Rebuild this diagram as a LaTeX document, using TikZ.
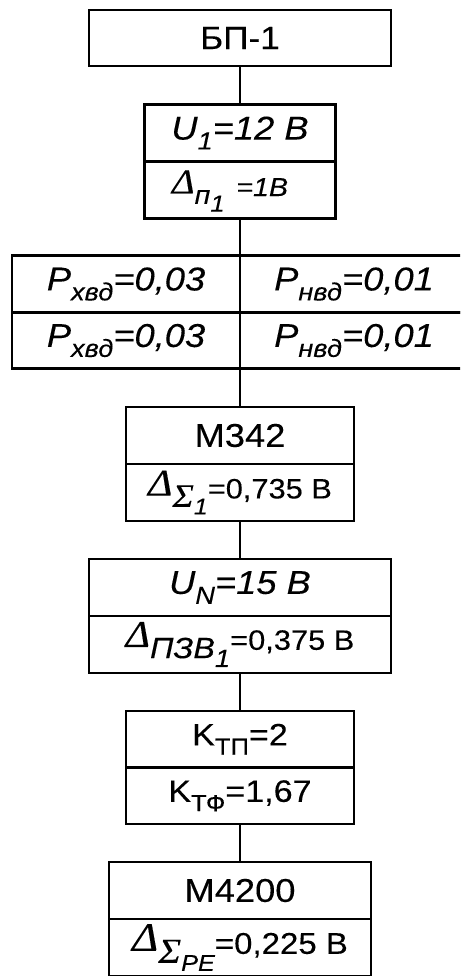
\documentclass[tikz,border=0pt]{standalone}
\usepackage{fontspec}
\setmainfont[FakeStretch=1.1,FakeBold=0.2]{Liberation Sans}
\newfontfamily\grk[FakeStretch=1.1,FakeBold=0.2]{Liberation Serif}
\newcommand\lo[2][0.75]{\raisebox{-0.3em}{\scalebox{#1}{#2}}}
\newcommand\dl{\raisebox{0.1em}{\scalebox{1.35}{\grk\itshape Δ}}}
\newcommand\sg{\scalebox{1.3}{\grk\itshape Σ}}

\begin{document}
\begin{tikzpicture}[x=1pt,y=-1pt,
  cell/.style={draw,line width=2.8pt,inner sep=0pt,outer sep=0pt,minimum height=57pt},
  pcell/.style={cell,minimum width=228pt,minimum height=56.5pt,font=\fontsize{33}{38}\selectfont\itshape},
  link/.style={line width=2.8pt}]

\path[use as bounding box,clip] (0,0) rectangle (460,976);

\node[cell,minimum width=302pt,minimum height=56pt,font=\fontsize{32}{36}\selectfont] (bp) at (240,38) {БП-1};

\node[cell,minimum width=191pt,font=\fontsize{33}{38}\selectfont\itshape] (u1) at (240,133) {U\lo{1}=12 В};
\node[cell,minimum width=191pt] (dp) at (240,190) {};
\node[font=\fontsize{26}{30}\selectfont\itshape] (dpt) at (230,191) {\dl\lo[1]{п\lo[0.9]{1}}\hspace{0.45em}=1В};

\node[pcell] (t11) at (126,284) {P\lo{хвд}=0,03};
\node[pcell] (t12) at (354,284) {P\lo{нвд}=0,01};
\node[pcell] (t21) at (126,340.5) {P\lo{хвд}=0,03};
\node[pcell] (t22) at (354,340.5) {P\lo{нвд}=0,01};

\node[cell,minimum width=228pt,font=\fontsize{33}{38}\selectfont] (m342) at (240,435.5) {M342};
\node[cell,minimum width=228pt,font=\fontsize{28}{32}\selectfont] (ds1) at (240,492.5) {\dl\lo[0.9]{\sg\lo[0.9]{\itshape 1}}=0,735 В};

\node[cell,minimum width=302pt,font=\fontsize{33}{38}\selectfont\itshape] (un) at (240,587.5) {U\lo{N}=15 В};
\node[cell,minimum width=302pt,font=\fontsize{28}{32}\selectfont] (dz) at (240,644.5) {\dl\lo[1.05]{\itshape ПЗВ\lo[0.85]{1}}=0,375 В};

\node[cell,minimum width=228pt,minimum height=56.5pt,font=\fontsize{31}{36}\selectfont] (kp) at (240,739.25) {K\lo{ТП}=2};
\node[cell,minimum width=228pt,minimum height=56.5pt,font=\fontsize{31}{36}\selectfont] (kf) at (240,795.75) {K\lo{ТФ}=1,67};

\node[cell,minimum width=262pt,font=\fontsize{33}{38}\selectfont] (m4200) at (240,890.5) {M4200};
\node[cell,minimum width=262pt,font=\fontsize{30}{34}\selectfont] (dpe) at (240,947.5) {\dl\lo[0.9]{\sg\lo[0.85]{\itshape PE}}=0,225 В};

\draw[link] (bp.south) -- (u1.north);
\draw[link] (dp.south) -- (t11.north east);
\draw[link] (t21.south east) -- (m342.north);
\draw[link] (ds1.south) -- (un.north);
\draw[link] (dz.south) -- (kp.north);
\draw[link] (kf.south) -- (m4200.north);
\end{tikzpicture}
\end{document}
